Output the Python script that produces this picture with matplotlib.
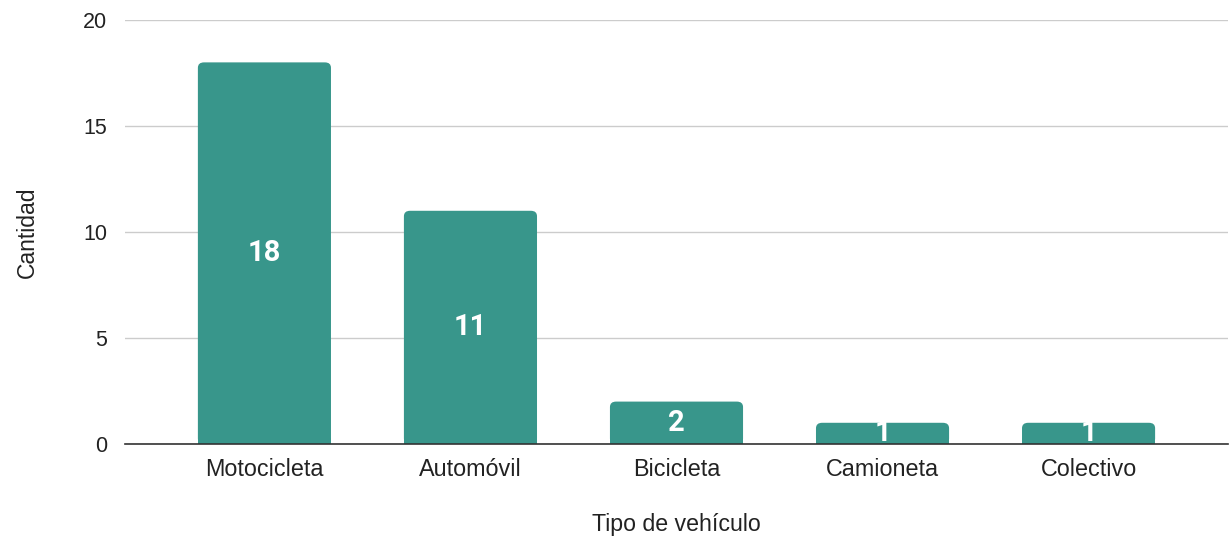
import matplotlib.pyplot as plt
from matplotlib.patches import FancyBboxPatch

categorias = ['Motocicleta', 'Automóvil', 'Bicicleta', 'Camioneta', 'Colectivo']
cantidad = [18, 11, 2, 1, 1]
yticks = [0, 5, 10, 15, 20]

color = '#38968b'

plt.rcParams['font.family'] = ['Liberation Sans', 'DejaVu Sans']

fig = plt.figure(figsize=(12.31, 5.37), dpi=100)
ax = fig.add_axes([0.1015, 0.1732, 0.8961, 0.7896])

x = range(len(categorias))
bars = ax.bar(x, cantidad, width=0.646, color=color, zorder=3)

# rounded top corners, like the original
for b in bars:
    b.set_visible(False)
    bx, by = b.get_x(), b.get_y()
    w, h = b.get_width(), b.get_height()
    p = FancyBboxPatch((bx, by), w, h, boxstyle='round,pad=0,rounding_size=0.03',
                       mutation_aspect=8.5,
                       facecolor=color, edgecolor='none', zorder=3)
    ax.add_patch(p)
    ax.add_patch(plt.Rectangle((bx, by), w, min(h, 0.3), facecolor=color,
                               edgecolor='none', zorder=3))
    ax.text(bx + w / 2, h / 2, str(int(h)), ha='center', va='center',
            color='white', fontsize=21, fontweight='bold', family='Roboto',
            zorder=4)

ax.set_xlim(-0.677, 4.677)
ax.set_ylim(0, 20)
ax.set_yticks(yticks)
ax.set_xticks(list(x))
ax.set_xticklabels(categorias)
ax.tick_params(axis='x', length=0, labelsize=16.8, pad=10, colors='#222222')
ax.tick_params(axis='y', length=0, labelsize=15.5, pad=13, colors='#222222')

ax.grid(axis='y', color='#cccccc', linewidth=1, zorder=0)
for s in ['top', 'right', 'left']:
    ax.spines[s].set_visible(False)
ax.spines['bottom'].set_color('#333333')
ax.spines['bottom'].set_linewidth(1.2)
ax.spines['bottom'].set_zorder(5)

ax.set_xlabel('Tipo de vehículo', fontsize=16.7, color='#222222', va='center')
ax.xaxis.set_label_coords(0.5, -0.191)
ax.set_ylabel('Cantidad', fontsize=16.5, color='#222222', va='center')
ax.yaxis.set_label_coords(-0.088, 0.5)

fig.savefig('out.png', dpi=100)
